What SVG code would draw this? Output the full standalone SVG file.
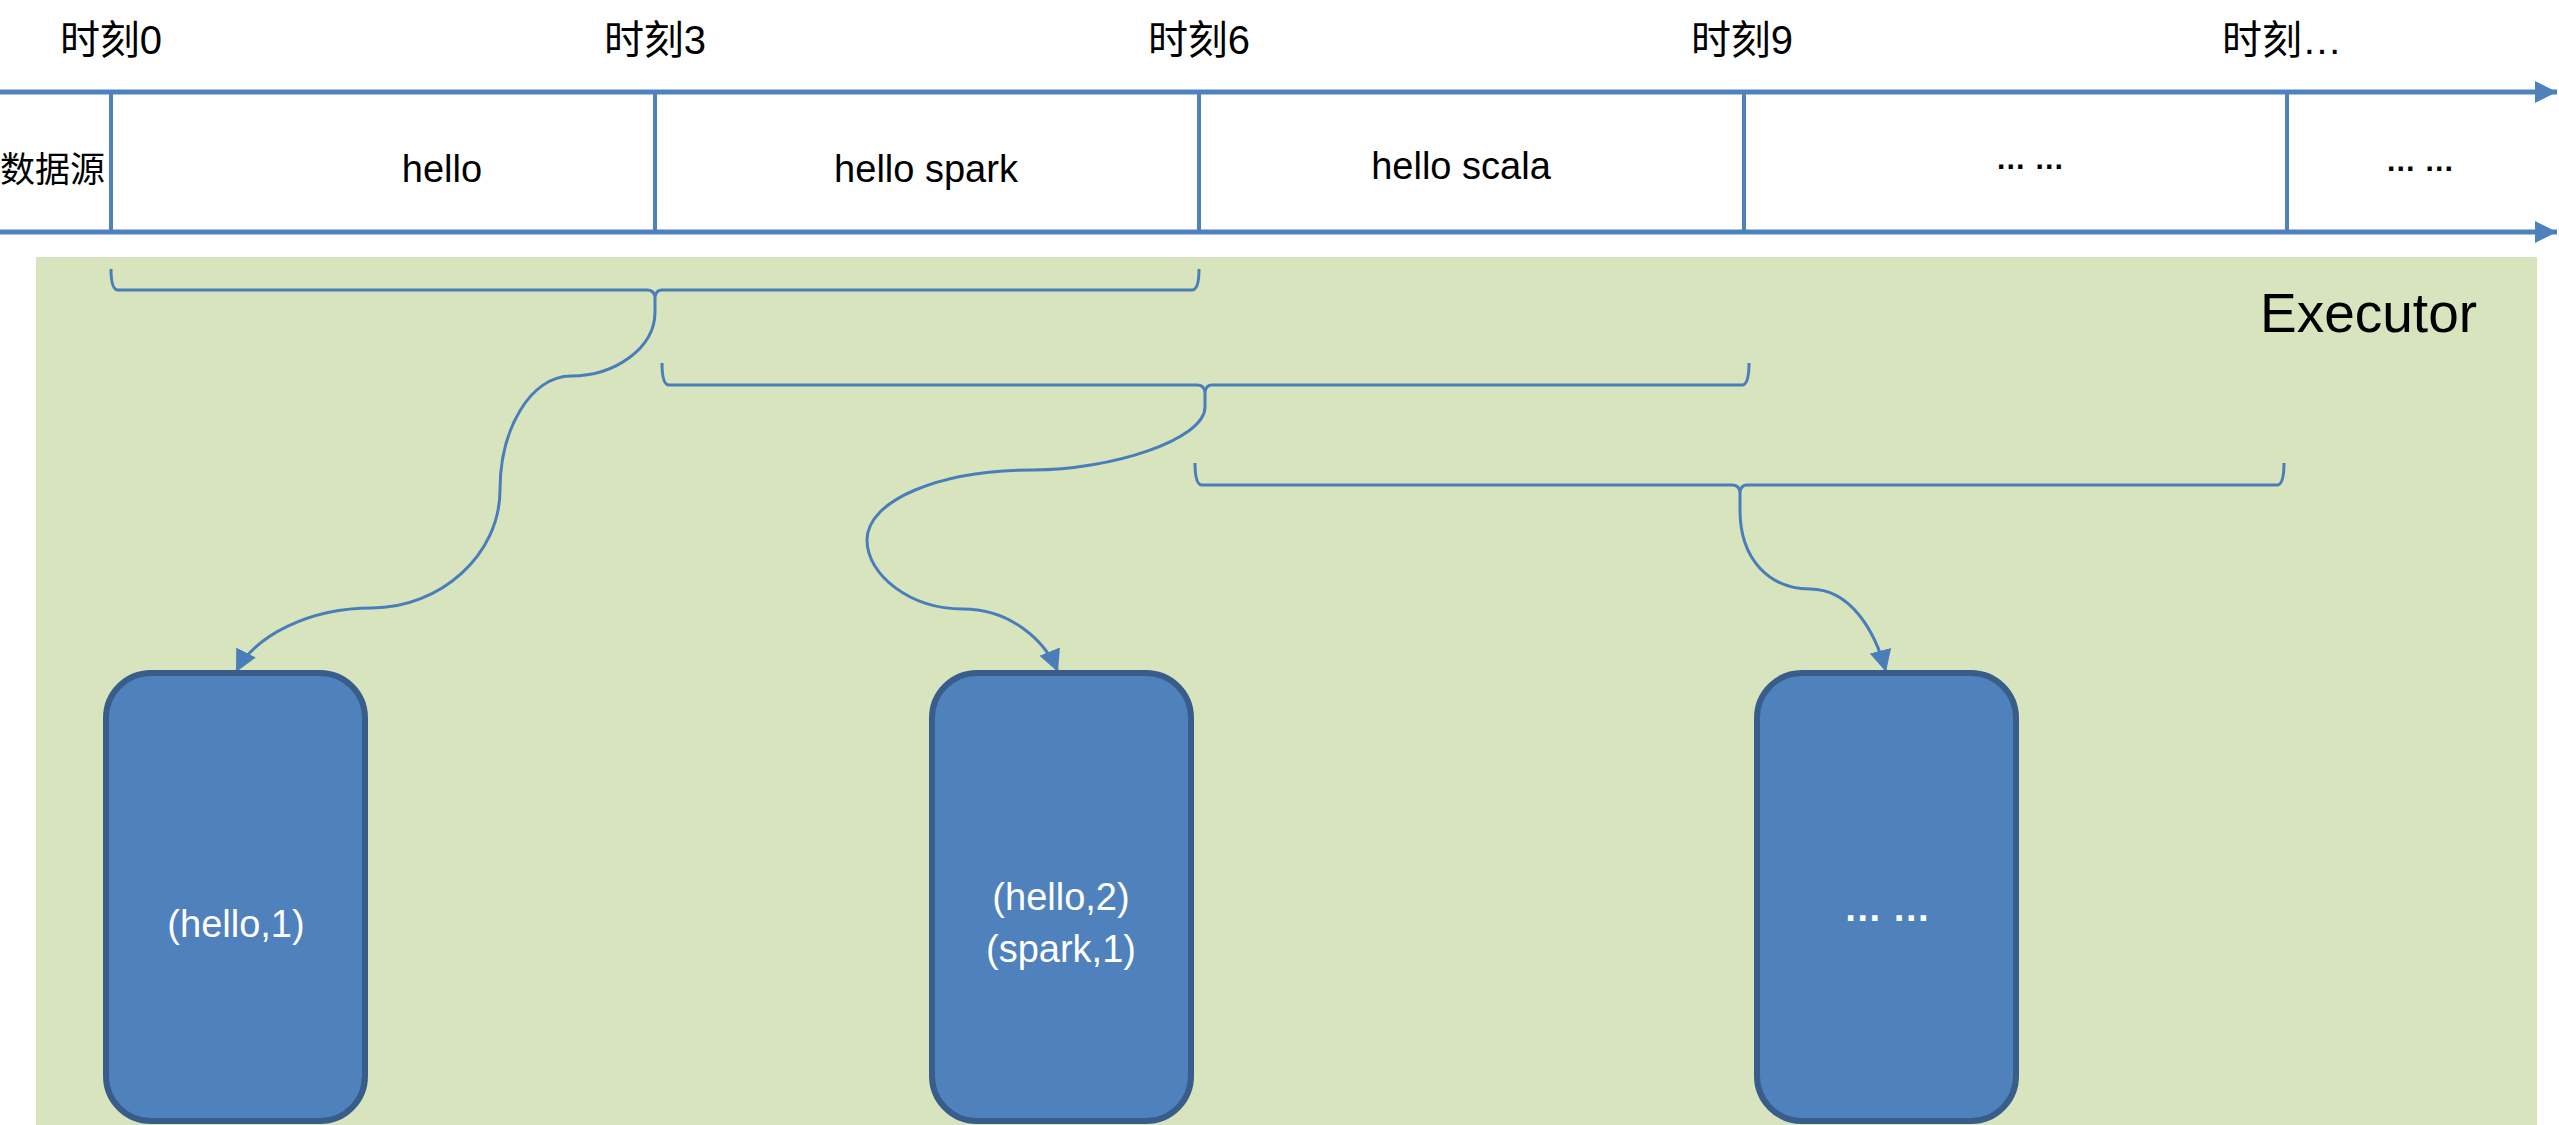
<svg xmlns="http://www.w3.org/2000/svg" width="2559" height="1125" viewBox="0 0 2559 1125">
  <defs>
    <style>
      .txt { font-family: "Liberation Sans", "Noto Sans CJK SC", sans-serif; fill: #000; }
      .cjk { font-family: "Liberation Sans", "Noto Sans CJK SC", sans-serif; fill: #000; font-size: 40px; text-anchor: middle; }
      .src { font-family: "Noto Sans CJK SC", sans-serif; fill: #000; font-size: 35px; text-anchor: end; }
      .cell { font-size: 38px; text-anchor: middle; }
      .dots { font-size: 30px; font-weight: bold; text-anchor: middle; }
      .axis { stroke: #4F81BD; stroke-width: 5; fill: none; }
      .div { stroke: #4F81BD; stroke-width: 4; fill: none; }
      .brace { stroke: #4A7EBB; stroke-width: 3; fill: none; }
      .conn { stroke: #4A7EBB; stroke-width: 3; fill: none; marker-end: url(#arr); }
      .box { fill: #4F81BD; stroke: #385D8A; stroke-width: 6; }
      .btxt { font-family: "Liberation Sans", sans-serif; fill: #FFFFFF; font-size: 38px; text-anchor: middle; }
    </style>
    <marker id="arr" markerUnits="userSpaceOnUse" markerWidth="22" markerHeight="22" refX="20" refY="10" orient="auto" viewBox="0 0 20 20">
      <path d="M0,0 L20,10 L0,20 Z" fill="#4A7EBB"/>
    </marker>
    <marker id="axarr" markerUnits="userSpaceOnUse" markerWidth="22" markerHeight="22" refX="20" refY="10" orient="auto" viewBox="0 0 20 20">
      <path d="M0,0 L20,10 L0,20 Z" fill="#4F81BD"/>
    </marker>
  </defs>

  <rect x="0" y="0" width="2559" height="1125" fill="#FFFFFF"/>

  <g id="executor">
    <rect x="36" y="257" width="2501" height="868" fill="#D7E4BD"/>
    <text class="txt" x="2260" y="332" font-size="55">Executor</text>
  </g>

  <g id="timeline">
    <line class="axis" x1="0" y1="92" x2="2557" y2="92" marker-end="url(#axarr)"/>
    <line class="axis" x1="0" y1="232" x2="2557" y2="232" marker-end="url(#axarr)"/>
    <line class="div" x1="111" y1="92" x2="111" y2="232"/>
    <line class="div" x1="655" y1="92" x2="655" y2="232"/>
    <line class="div" x1="1199" y1="92" x2="1199" y2="232"/>
    <line class="div" x1="1744" y1="92" x2="1744" y2="232"/>
    <line class="div" x1="2287" y1="92" x2="2287" y2="232"/>
  </g>

  <g id="labels">
    <text class="cjk" x="111" y="54">时刻0</text>
    <text class="cjk" x="655" y="54">时刻3</text>
    <text class="cjk" x="1199" y="54">时刻6</text>
    <text class="cjk" x="1742" y="54">时刻9</text>
    <text class="cjk" x="2282" y="54">时刻…</text>
    <text class="src" x="105" y="182">数据源</text>
  </g>

  <g id="cell1"><text class="txt cell" x="442" y="182">hello</text></g>
  <g id="cell2"><text class="txt cell" x="926" y="182">hello spark</text></g>
  <g id="cell3"><text class="txt cell" x="1461" y="179">hello scala</text></g>
  <g id="cell4"><text class="txt dots" x="2030" y="169">… …</text></g>
  <g id="cell5"><text class="txt dots" x="2420" y="171">… …</text></g>

  <g id="braces">
    <path class="brace" d="M111,269 Q111,290 118,290 H647 Q654,290 655,297 Q656,290 662,290 H1192 Q1199,290 1199,269"/>
    <path class="brace" d="M662,363 Q662,385 669,385 H1197 Q1204,385 1205,392 Q1206,385 1212,385 H1742 Q1749,385 1749,363"/>
    <path class="brace" d="M1195,463 Q1195,485 1202,485 H1732 Q1739,485 1740,492 Q1741,485 1747,485 H2277 Q2284,485 2284,463"/>
  </g>

  <g id="connectors">
    <path class="conn" d="M655,297 V312 C655,348 615,376 571,376 C530,376 500,430 500,490 C500,555 440,608 372,608 C310,608 255,635 236,672"/>
    <path class="conn" d="M1205,392 V407 C1205,440 1110,470 1033,470 C940,470 867,500 867,540 C867,575 910,609 963,609 C1010,609 1045,640 1058,672"/>
    <path class="conn" d="M1740,492 V510 C1740,560 1770,589 1810,589 C1850,589 1875,630 1886,672"/>
  </g>

  <g id="box1">
    <rect class="box" x="106" y="673" width="259" height="448" rx="45" ry="45"/>
    <text class="btxt" x="236" y="937">(hello,1)</text>
  </g>
  <g id="box2">
    <rect class="box" x="932" y="673" width="259" height="448" rx="45" ry="45"/>
    <text class="btxt" x="1061" y="910">(hello,2)</text>
    <text class="btxt" x="1061" y="962">(spark,1)</text>
  </g>
  <g id="box3">
    <rect class="box" x="1757" y="673" width="259" height="448" rx="45" ry="45"/>
    <text class="btxt" x="1887" y="921" font-size="44" font-weight="bold">… …</text>
  </g>
</svg>
